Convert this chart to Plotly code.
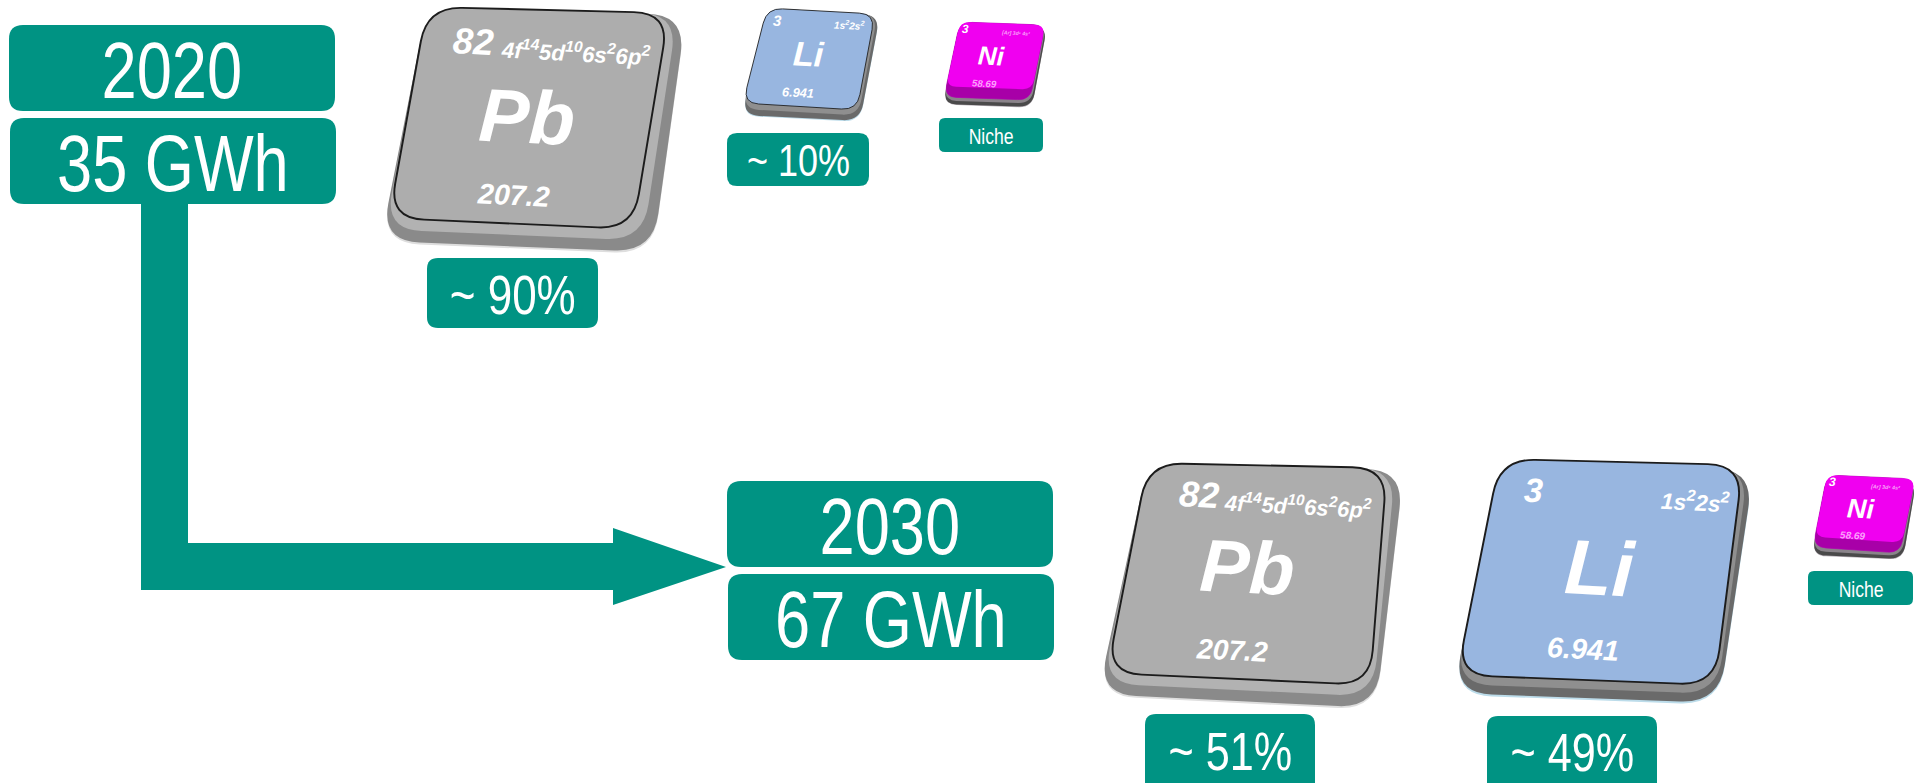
import plotly.graph_objects as go

# ---- content -------------------------------------------------------------
years = ["2020", "2030"]
capacities = ["35 GWh", "67 GWh"]
shares_2020 = ["~ 90%", "~ 10%", "Niche"]
shares_2030 = ["~ 51%", "~ 49%", "Niche"]
pb_text = ["82", "4f<sup>14</sup>5d<sup>10</sup>6s<sup>2</sup>6p<sup>2</sup>", "Pb", "207.2"]
li_text = ["3", "1s<sup>2</sup>2s<sup>2</sup>", "Li", "6.941"]
ni_text = ["3", "[Ar] 3d⁸ 4s²", "Ni", "58.69"]

TEAL = "#009383"
W, H = 1923, 783
SANS = "Liberation Sans"
shapes, notes = [], []


def quad(c, r, fill, line=None, lw=0):
    d = ""
    n = len(c)
    for i in range(n):
        p, a, b = c[i], c[i - 1], c[(i + 1) % n]
        def toward(q):
            L = ((q[0] - p[0]) ** 2 + (q[1] - p[1]) ** 2) ** 0.5
            return p[0] + (q[0] - p[0]) * r / L, p[1] + (q[1] - p[1]) * r / L
        s, e = toward(a), toward(b)
        d += f"{'M' if i == 0 else 'L'}{s[0]:.1f},{s[1]:.1f} Q{p[0]:.1f},{p[1]:.1f} {e[0]:.1f},{e[1]:.1f} "
    d += "Z"
    return dict(type="path", path=d, fillcolor=fill, layer="below",
                xref="x", yref="y", line=dict(width=lw, color=line or fill))


def label(x, y, text, size, color="white", angle=0, bold=False, italic=False):
    t = f"<b>{text}</b>" if bold else text
    notes.append(dict(x=x, y=y, xref="x", yref="y", text=t, showarrow=False,
                      xanchor="center", yanchor="middle", textangle=angle,
                      font=dict(family=SANS, size=size, color=color,
                                style="italic" if italic else "normal")))


def box(x0, y0, x1, y1, text, size, r=12, cy=None):
    shapes.append(quad([(x0, y0), (x1, y0), (x1, y1), (x0, y1)], r, TEAL))
    label((x0 + x1) / 2, cy if cy is not None else (y0 + y1) / 2, text, size)


def mix(a, b, t):
    return (a[0] + (b[0] - a[0]) * t, a[1] + (b[1] - a[1]) * t)


def tile(face, slab, fill, rim, mid, inner, texts, uv, sizes, outline="#1c1c1c",
         glow=None, faint="white"):
    w = face[1][0] - face[0][0]
    r = 0.145 * w
    outer = [face[0], slab[0], slab[1], slab[2]]
    shapes.append(quad([(p[0], p[1] + 0.008 * w) for p in outer], r * 1.1, rim))
    shapes.append(quad(outer, r * 1.1, mid))
    fpts = [face[1], face[2], face[3]]
    shapes.append(quad([face[0]] + [mix(f, s, 0.5) for f, s in zip(fpts, slab)], r * 1.05, inner))
    shapes.append(quad(face, r, fill, outline, max(0.7, 0.008 * w)))
    if glow:
        top = [face[0], face[1], mix(face[1], face[2], 0.86), mix(face[0], face[3], 0.86)]
        shapes.append(quad(top, r * 0.8, glow))
    for i, (t, (u, v), s) in enumerate(zip(texts, uv, sizes)):
        lx, ly = mix(face[0], face[3], v)
        rx, ry = mix(face[1], face[2], v)
        col = faint if i in (1, 3) else "white"
        label(lx + (rx - lx) * u, ly + (ry - ly) * u, t, s * w / 245,
              color=col, angle=3, bold=True, italic=True)


# ---- arrow ---------------------------------------------------------------
arrow_x = [141, 188, 188, 613, 613, 726, 613, 613, 141]
arrow_y = [204, 204, 543, 543, 528, 567, 605, 590, 590]
shapes.append(dict(type="path", fillcolor=TEAL, line=dict(width=0), layer="below", xref="x", yref="y",
                   path="M" + " L".join(f"{a},{b}" for a, b in zip(arrow_x, arrow_y)) + " Z"))

# ---- header boxes --------------------------------------------------------
box(9, 25, 335, 111, years[0], 79, 14, 70)
box(10, 118, 336, 204, capacities[0], 79, 14, 163)
box(727, 481, 1053, 567, years[1], 79, 14, 526)
box(728, 574, 1054, 660, capacities[1], 79, 14, 619)

# ---- share boxes ---------------------------------------------------------
box(427, 258, 598, 328, shares_2020[0], 55, 11, 295)
box(727, 133, 869, 186, shares_2020[1], 45, 10, 160)
box(939, 118, 1043, 152, shares_2020[2], 22, 6, 136)
box(1145, 714, 1315, 800, shares_2030[0], 54, 11, 751)
box(1487, 716, 1657, 800, shares_2030[1], 54, 11, 752)
box(1808, 571, 1913, 605, shares_2030[2], 22, 6, 589)

# ---- element tiles -------------------------------------------------------
PB_UV_2020 = [(0.215, 0.155), (0.645, 0.19), (0.49, 0.50), (0.488, 0.865)]
PB_UV_2030 = [(0.235, 0.145), (0.645, 0.18), (0.475, 0.48), (0.46, 0.865)]
PB_SZ = [37, 22.5, 76, 29]
LI_UV_2020 = [(0.12, 0.12), (0.78, 0.13), (0.475, 0.45), (0.46, 0.86)]
LI_UV_2030 = [(0.16, 0.14), (0.825, 0.17), (0.484, 0.485), (0.469, 0.86)]
LI_SZ = [34, 23, 78, 29]
NI_UV = [(0.08, 0.09), (0.68, 0.12), (0.45, 0.44), (0.43, 0.80)]
NI_SZ = [34, 15, 75, 28]

PB_STYLE = dict(fill="#adadad", rim="#dedede", mid="#8a8a8a", inner="#b2b2b2")
LI_STYLE = dict(fill="#98b6e0", rim="#bcdcea", mid="#6a6a6a", inner="#8f8f8f")
NI_STYLE = dict(fill="#a800a8", rim="#b8b0b8", mid="#4a4a4a", inner="#8a848a",
                outline="#b000b0", glow="#f000f0", faint="rgba(255,255,255,0.65)")

tile([(427, 7), (669, 13), (633, 229), (389, 218)], [(686, 15), (653, 252), (381, 241)],
     texts=pb_text, uv=PB_UV_2020, sizes=PB_SZ, **PB_STYLE)
tile([(767, 8), (875, 14), (857, 110), (743, 103)], [(880, 15), (860, 121), (742, 115)],
     texts=li_text, uv=LI_UV_2020, sizes=LI_SZ, **LI_STYLE)
tile([(960, 22), (1045, 25), (1030, 100), (944, 97)], [(1047, 27), (1032, 107), (943, 104)],
     texts=ni_text, uv=NI_UV, sizes=NI_SZ, **NI_STYLE)
tile([(1148, 463), (1387, 468), (1370, 685), (1107, 673)], [(1404, 470), (1376, 708), (1098, 694)],
     texts=pb_text, uv=PB_UV_2030, sizes=PB_SZ, **PB_STYLE)
tile([(1500, 459), (1743, 465), (1715, 685), (1457, 675)], [(1754, 470), (1719, 703), (1453, 693)],
     texts=li_text, uv=LI_UV_2030, sizes=LI_SZ, **LI_STYLE)
tile([(1827, 475), (1915, 479), (1900, 553), (1813, 547)], [(1916, 483), (1903, 559), (1812, 555)],
     texts=ni_text, uv=NI_UV, sizes=NI_SZ, **NI_STYLE)

fig = go.Figure()
fig.update_layout(
    width=W, height=H, margin=dict(l=0, r=0, t=0, b=0),
    paper_bgcolor="white", plot_bgcolor="white", showlegend=False,
    xaxis=dict(range=[0, W], visible=False, fixedrange=True),
    yaxis=dict(range=[H, 0], visible=False, fixedrange=True),
    shapes=shapes, annotations=notes,
)

# Page without body margin; upright captions condensed as in the reference;
# the zero-width baseline-reset spans after superscripts are folded into the next run.
POST = """
document.body.style.margin = '0';
document.querySelectorAll('.annotation-text').forEach(function (t) {
  t.querySelectorAll('tspan').forEach(function (s) {
    if (s.textContent !== '\\u200b') { return; }
    var n = s.nextSibling, dy = s.getAttribute('dy');
    if (n && n.nodeType === 3) {
      var run = document.createElementNS('http://www.w3.org/2000/svg', 'tspan');
      run.setAttribute('dy', dy);
      run.textContent = n.data;
      n.parentNode.replaceChild(run, n);
    }
    s.parentNode.removeChild(s);
  });
  if (t.querySelector('b') || t.style.fontStyle === 'italic') { return; }
  var b = t.getBBox(), cx = b.x + b.width / 2, k = 0.8;
  t.setAttribute('transform', 'translate(' + cx + ',0) scale(' + k + ',1) translate(' + (-cx) + ',0)');
});
"""
fig.write_html("out.html", config={"displayModeBar": False}, post_script=POST)
